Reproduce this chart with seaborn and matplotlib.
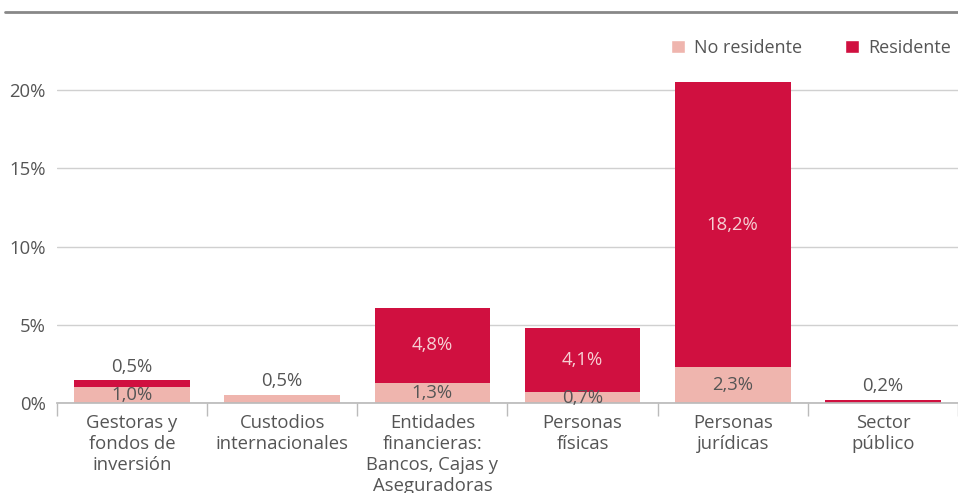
import matplotlib
matplotlib.use("Agg")
import matplotlib.pyplot as plt
from matplotlib.lines import Line2D
from matplotlib.patches import Patch
import pandas as pd
import seaborn as sns

# Data (% share)
categories = ["Gestoras y\nfondos de\ninversión", "Custodios\ninternacionales",
              "Entidades\nfinancieras:\nBancos, Cajas y\nAseguradoras",
              "Personas\nfísicas", "Personas\njurídicas", "Sector\npúblico"]
no_residente = [1.0, 0.5, 1.3, 0.7, 2.3, 0.0]
residente = [0.5, 0.0, 4.8, 4.1, 18.2, 0.2]
y_ticks = [0, 5, 10, 15, 20]

PINK = "#EFB5AE"
RED = "#D01040"
TXT = "#555555"
FS = 13.3

df = pd.DataFrame({"cat": categories, "no_res": no_residente, "res": residente})
df["total"] = df["no_res"] + df["res"]

sns.set_theme(style="white")
plt.rcParams["font.family"] = ["Open Sans", "DejaVu Sans"]

fig = plt.figure(figsize=(9.58, 4.93), dpi=100)
ax = fig.add_axes([57 / 958, 90 / 493, 901 / 958, 391 / 493])

# stacked bars: total (red) drawn first, then non-resident (pink) over the bottom part
sns.barplot(data=df, x="cat", y="total", color=RED, width=0.77, saturation=1, linewidth=0, ax=ax)
sns.barplot(data=df, x="cat", y="no_res", color=PINK, width=0.77, saturation=1, linewidth=0, ax=ax)

ax.set_ylim(0, 25)
ax.set_xlim(-0.5, len(categories) - 0.5)
ax.set_yticks(y_ticks)
ax.set_yticklabels([f"{t}%" for t in y_ticks], fontsize=FS, color=TXT)
ax.yaxis.grid(True, color="#d0d0d0", linewidth=1)
ax.set_axisbelow(True)
ax.tick_params(axis="y", length=0, pad=8)
ax.set_xlabel("")
ax.set_ylabel("")
ax.set_xticks(range(len(categories)))
ax.set_xticklabels(categories, fontsize=FS, color=TXT, linespacing=1.2)
ax.set_xticks([i - 0.5 for i in range(len(categories) + 1)], minor=True)
ax.tick_params(axis="x", which="major", length=0, pad=8)
ax.tick_params(axis="x", which="minor", length=9, color="#bbbbbb", width=1, direction="out")
ax.tick_params(axis="x", which="minor", bottom=True)
for s in ["top", "right", "left"]:
    ax.spines[s].set_visible(False)
ax.spines["bottom"].set_color("#bbbbbb")

def fmt(v):
    return f"{v:.1f}%".replace(".", ",")

# value labels
for i, (nr, r) in enumerate(zip(no_residente, residente)):
    tot = nr + r
    if nr > 0 and r > 0:
        ax.text(i, nr / 2, fmt(nr), ha="center", va="center", fontsize=FS, color=TXT)
        if r >= 1:
            ax.text(i, nr + r / 2, fmt(r), ha="center", va="center", fontsize=FS, color="#f6d0d4")
        else:
            ax.text(i, tot + 0.2, fmt(r), ha="center", va="bottom", fontsize=FS, color=TXT)
    else:
        ax.text(i, tot + 0.3, fmt(tot), ha="center", va="bottom", fontsize=FS, color=TXT)

handles = [Patch(facecolor=PINK, label="No residente"), Patch(facecolor=RED, label="Residente")]
ax.legend(handles=handles, loc="upper right", bbox_to_anchor=(1.006, 0.963), ncol=2, frameon=False,
          fontsize=13, labelcolor=TXT, handlelength=0.75, handleheight=0.75, handletextpad=0.5,
          columnspacing=2.4, borderaxespad=0.3)

fig.add_artist(Line2D([5 / 958, 1], [1 - 12 / 493, 1 - 12 / 493], color="#888888", linewidth=2))

fig.savefig("out.png", dpi=100)
